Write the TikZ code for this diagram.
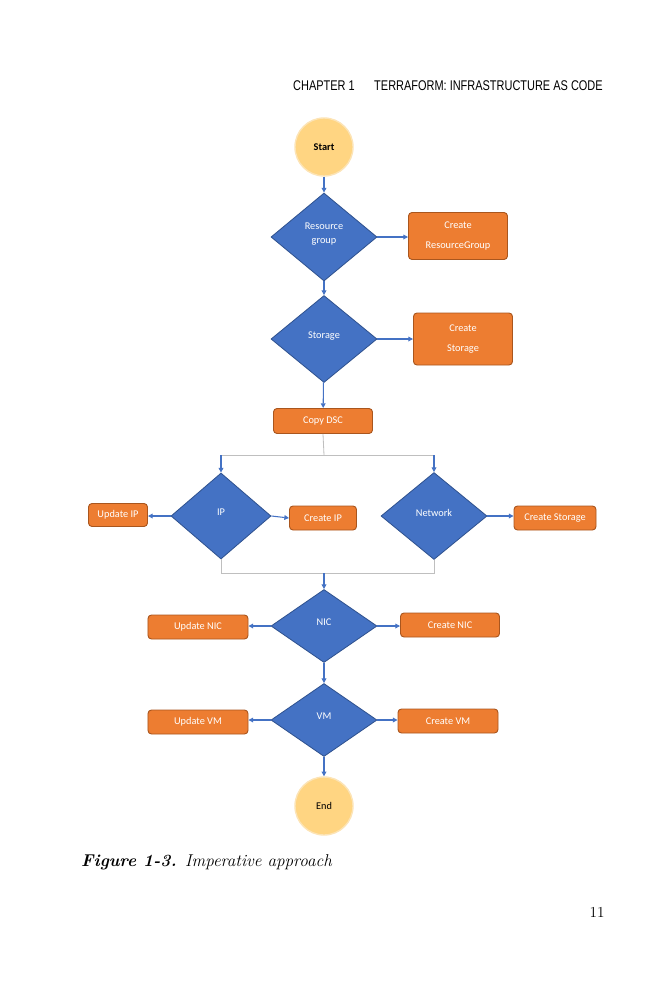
\documentclass[tikz,border=0pt]{standalone}
\usepackage{fontspec}
\usetikzlibrary{shapes.geometric, arrows.meta}

\newfontfamily\flowfont{Carlito}
\newfontfamily\headfont[FakeStretch=0.78]{Liberation Sans}

\definecolor{fblue}{HTML}{4472C4}
\definecolor{dblue}{HTML}{2F528F}
\definecolor{forange}{HTML}{ED7D31}
\definecolor{dorange}{HTML}{A9561E}
\definecolor{fyellow}{HTML}{FFD582}
\definecolor{lyellow}{HTML}{FCE4B6}
\definecolor{lgray}{HTML}{BFBFBF}

\tikzset{
  decision/.style={diamond, draw=dblue, fill=fblue, line width=0.7pt, inner sep=0pt,
    minimum width=3.18cm, minimum height=2.64cm, text=white, align=center,
    font=\flowfont\fontsize{8.8}{12}\selectfont},
  action/.style={rectangle, rounded corners=3pt, draw=dorange, fill=forange, line width=0.8pt,
    inner sep=0pt, minimum width=2.97cm, minimum height=0.72cm, text=white, align=center,
    font=\flowfont\fontsize{8.8}{10}\selectfont},
  terminal/.style={circle, fill=fyellow, draw=lyellow, line width=1.2pt, minimum size=1.74cm,
    font=\flowfont\fontsize{8.8}{10}\selectfont},
  flow/.style={draw=fblue, line width=0.9pt, -{Triangle[length=4pt,width=4pt]}},
  split/.style={draw=lgray, line width=0.7pt},
}

\begin{document}
\begin{tikzpicture}[x=0.03cm, y=-0.03cm]

\useasboundingbox (0,0) rectangle (659,1000);

% page header
\node [anchor=west, inner sep=0pt, font=\headfont\fontsize{12}{14}\selectfont] (chap) at (293,86) {CHAPTER 1};
\node [anchor=west, inner sep=0pt, font=\headfont\fontsize{12}{14}\selectfont] (title) at (374,86) {TERRAFORM: INFRASTRUCTURE AS CODE};

% flow chart
\node [terminal, font=\flowfont\bfseries\fontsize{8.8}{10}\selectfont] (start) at (324,147) {Start};

\node [decision] (rg) at (324,237) {Resource\\group\\[-6pt]};
\node [action, minimum height=1.41cm] (createrg) at (458,236) {Create\\[7pt]ResourceGroup};

\node [decision, minimum height=2.61cm] (st) at (324,339) {Storage\\[-6pt]};
\node [action, minimum height=1.56cm] (createst) at (463,339) {Create\\[7pt]Storage};

\node [action, minimum height=0.75cm] (dsc) at (323,421) {Copy DSC};

\coordinate (split) at (324,455);
\coordinate (splitl) at (221,455);
\coordinate (splitr) at (434,455);

\node [decision, minimum width=3.0cm, minimum height=2.58cm] (ip) at (221,516) {IP\\[-6pt]};
\node [action, minimum width=1.77cm, minimum height=0.69cm] (updip) at (118,515) {Update IP};
\node [action, minimum width=2.01cm] (createip) at (323,518) {Create IP};

\node [decision, minimum height=2.61cm] (net) at (434,516) {Network\\[-6pt]};
\node [action, minimum width=2.46cm] (createst2) at (555,518) {Create Storage};

\coordinate (joinl) at (221,573);
\coordinate (join) at (324,573);
\coordinate (joinr) at (434,573);

\node [decision, minimum height=2.19cm] (nic) at (324,626) {NIC\\[-6pt]};
\node [action, minimum width=3.0cm] (updnic) at (198,627) {Update NIC};
\node [action] (createnic) at (450,625) {Create NIC};

\node [decision, minimum height=2.19cm] (vm) at (324,720) {VM\\[-6pt]};
\node [action, minimum width=3.0cm] (updvm) at (198,722) {Update VM};
\node [action, minimum width=3.0cm] (createvm) at (448,721) {Create VM};

\node [terminal] (end) at (324,806) {End};

% connectors
\draw [flow] (start) -- (rg);
\draw [flow] (rg.east) -- (rg.east -| createrg.west);
\draw [flow] (rg) -- (st);
\draw [flow] (st.east) -- (st.east -| createst.west);
\draw [flow] (st) -- (dsc);

\draw [split] (dsc.south) -- (split);
\draw [split] (splitl) -- (splitr);
\draw [flow] (splitl) -- (ip.north);
\draw [flow] (splitr) -- (net.north);

\draw [flow] (ip.west) -- (ip.west -| updip.east);
\draw [flow] (ip.east) -- (createip.west);
\draw [flow] (net.east) -- (net.east -| createst2.west);

\draw [split] (ip.south) -- (joinl) -- (joinr) -- (net.south);
\draw [flow] (join) -- (nic.north);

\draw [flow] (nic.west) -- (nic.west -| updnic.east);
\draw [flow] (nic.east) -- (nic.east -| createnic.west);
\draw [flow] (nic) -- (vm);
\draw [flow] (vm.west) -- (vm.west -| updvm.east);
\draw [flow] (vm.east) -- (vm.east -| createvm.west);
\draw [flow] (vm) -- (end);

% caption and page number
\node [anchor=west, inner sep=0pt, font=\fontsize{14.6}{16}\selectfont] (caption) at (81,862)
  {\textbf{\textit{Figure 1-3.}}\enspace\textit{Imperative approach}};
\node [inner sep=0pt, font=\fontsize{13}{15}\selectfont] (page) at (597,912) {11};

\end{tikzpicture}
\end{document}
